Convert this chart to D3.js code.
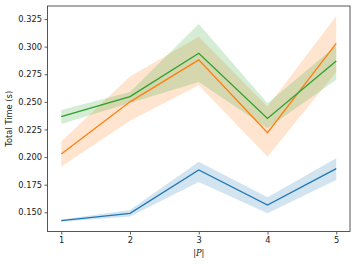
<!DOCTYPE html>
<html>
<head>
  <script src="https://d3js.org/d3.v7.min.js"></script>
  <style>
    body { margin: 0; background: #fff; }
    text { font-family: "DejaVu Sans", sans-serif; fill: #222; }
  </style>
</head>
<body>
  <div id="chart"></div>
  <script>
    // |P| values on x axis
    var sizes = [1, 2, 3, 4, 5];
    var yTicks = [0.150, 0.175, 0.200, 0.225, 0.250, 0.275, 0.300, 0.325];

    // mean and confidence band per series
    var blueMean = [0.1424, 0.1491, 0.1883, 0.1566, 0.1895];
    var blueLow  = [0.1414, 0.1462, 0.1775, 0.1491, 0.1793];
    var blueHigh = [0.1434, 0.1520, 0.1958, 0.1636, 0.1989];

    var orangeMean = [0.2028, 0.2500, 0.2880, 0.2221, 0.3030];
    var orangeLow  = [0.1913, 0.2330, 0.2650, 0.2004, 0.2770];
    var orangeHigh = [0.2140, 0.2730, 0.3090, 0.2456, 0.3277];

    var greenMean = [0.2366, 0.2547, 0.2940, 0.2350, 0.2870];
    var greenLow  = [0.2300, 0.2490, 0.2680, 0.2260, 0.2700];
    var greenHigh = [0.2426, 0.2590, 0.3205, 0.2487, 0.3010];

    var series = [
      { color: "#1f77b4", mean: blueMean, low: blueLow, high: blueHigh },
      { color: "#ff7f0e", mean: orangeMean, low: orangeLow, high: orangeHigh },
      { color: "#2ca02c", mean: greenMean, low: greenLow, high: greenHigh }
    ];

    var width = 357, height = 265;
    var margin = { top: 6, right: 7, bottom: 33.5, left: 47.5 };

    var x = d3.scaleLinear()
      .domain([0.8, 5.2])
      .range([margin.left, width - margin.right]);

    var y = d3.scaleLinear()
      .domain([0.1326, 0.3368])
      .range([height - margin.bottom, margin.top]);

    var svg = d3.select("#chart")
      .append("svg")
      .attr("width", width)
      .attr("height", height);

    // bands first, then lines
    series.forEach(function(s) {
      var area = d3.area()
        .x(function(d, i) { return x(sizes[i]); })
        .y0(function(d, i) { return y(s.low[i]); })
        .y1(function(d, i) { return y(s.high[i]); });
      svg.append("path")
        .attr("d", area(s.mean))
        .attr("fill", s.color)
        .attr("fill-opacity", 0.2);
    });

    series.forEach(function(s) {
      var line = d3.line()
        .x(function(d, i) { return x(sizes[i]); })
        .y(function(d) { return y(d); });
      svg.append("path")
        .attr("d", line(s.mean))
        .attr("fill", "none")
        .attr("stroke", s.color)
        .attr("stroke-width", 1.3);
    });

    svg.append("g")
      .attr("transform", "translate(0," + (height - margin.bottom) + ")")
      .call(d3.axisBottom(x).tickValues(sizes).tickFormat(d3.format("d")).tickSize(3).tickSizeOuter(0).tickPadding(2.5));

    svg.append("g")
      .attr("transform", "translate(" + margin.left + ",0)")
      .call(d3.axisLeft(y).tickValues(yTicks).tickFormat(d3.format(".3f")).tickSize(3).tickSizeOuter(0).tickPadding(2.5));

    svg.selectAll(".domain").remove();
    svg.selectAll(".tick line").attr("stroke", "#333").attr("stroke-width", 0.8);
    svg.selectAll(".tick text")
      .style("font-size", "8.3px")
      .style("font-family", "'DejaVu Sans', sans-serif")
      .attr("fill", "#222");

    // frame
    svg.append("rect")
      .attr("x", margin.left)
      .attr("y", margin.top)
      .attr("width", width - margin.left - margin.right)
      .attr("height", height - margin.top - margin.bottom)
      .attr("fill", "none")
      .attr("stroke", "#444")
      .attr("stroke-width", 0.9);

    svg.append("text")
      .attr("transform", "translate(12," + ((margin.top + height - margin.bottom) / 2) + ") rotate(-90)")
      .attr("text-anchor", "middle")
      .attr("fill", "#222")
      .style("font-size", "8.3px")
      .text("Total Time (s)");

    var xl = svg.append("text")
      .attr("x", x(3))
      .attr("y", 256)
      .attr("text-anchor", "middle")
      .attr("fill", "#222")
      .style("font-size", "8.3px");
    xl.append("tspan").attr("fill", "#222").text("|");
    xl.append("tspan").attr("fill", "#222").style("font-family", "'DejaVu Serif', serif").style("font-style", "italic").text("P");
    xl.append("tspan").attr("fill", "#222").text("|");
  </script>
</body>
</html>
